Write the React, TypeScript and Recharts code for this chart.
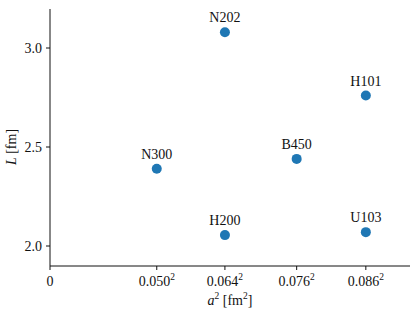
import { ScatterChart, Scatter, XAxis, YAxis, LabelList } from 'recharts';

// ensembles, a^2 in fm^2 and box size L in fm
const ensembles = ['N300', 'N202', 'H200', 'B450', 'H101', 'U103'];
const a2Values = [0.0025, 0.004096, 0.004096, 0.005776, 0.007396, 0.007396];
const lValues = [2.39, 3.08, 2.055, 2.44, 2.76, 2.07];

const xTicks = [0, 0.0025, 0.004096, 0.005776, 0.007396];
const xTickLabels = ['0', '0.050', '0.064', '0.076', '0.086'];
const yTicks = [2.0, 2.5, 3.0];

const data = ensembles.map((name, i) => ({ name, a2: a2Values[i], L: lValues[i] }));

const FONT = '"Liberation Serif", "Times New Roman", serif';
const INK = '#111';

const XTick = (props: any) => {
  const { x, y, payload, index } = props;
  const label = xTickLabels[index] ?? String(payload.value);
  return (
    <text x={x} y={y + 14} textAnchor="middle" style={{ fontFamily: FONT, fontSize: 14 }} fill={INK}>
      {label}
      {index > 0 && (
        <tspan dy={-6} style={{ fontSize: 9.5 }}>
          2
        </tspan>
      )}
    </text>
  );
};

const YTick = (props: any) => {
  const { x, y, payload } = props;
  return (
    <text x={x - 2} y={y + 5} textAnchor="end" style={{ fontFamily: FONT, fontSize: 14 }} fill={INK}>
      {Number(payload.value).toFixed(1)}
    </text>
  );
};

const Dot = (props: any) => <circle cx={props.cx} cy={props.cy} r={5} fill="#1f77b4" />;

const PointLabel = (props: any) => {
  const { x, y, width, height, value } = props;
  const cx = x + width / 2;
  const cy = y + height / 2;
  return (
    <text x={cx} y={cy - 10} textAnchor="middle" style={{ fontFamily: FONT, fontSize: 14 }} fill={INK}>
      {value}
    </text>
  );
};

export default function App() {
  return (
    <div style={{ position: 'absolute', left: 0, top: 0, width: 415, height: 312, background: '#fff' }}>
      <ScatterChart width={415} height={312} margin={{ top: 9, right: 5, bottom: 0, left: 0 }}>
        <XAxis
          type="number"
          dataKey="a2"
          domain={[0, 0.00843]}
          ticks={xTicks}
          tick={<XTick />}
          tickSize={4}
          stroke={INK}
          tickLine={{ stroke: INK }}
          height={46}
        />
        <YAxis
          type="number"
          dataKey="L"
          domain={[1.899, 3.197]}
          ticks={yTicks}
          tick={<YTick />}
          tickSize={4}
          stroke={INK}
          tickLine={{ stroke: INK }}
          width={50}
        />
        <Scatter data={data} shape={<Dot />} isAnimationActive={false}>
          <LabelList dataKey="name" content={<PointLabel />} />
        </Scatter>
      </ScatterChart>
      <div
        style={{
          position: 'absolute',
          left: 180,
          top: 288,
          width: 100,
          textAlign: 'center',
          fontFamily: FONT,
          fontSize: 14,
          color: INK,
          lineHeight: '16px',
        }}
      >
        <i>a</i>
        <sup style={{ fontSize: 9.5 }}>2</sup> [fm<sup style={{ fontSize: 9.5 }}>2</sup>]
      </div>
      <div
        style={{
          position: 'absolute',
          left: 12 - 50,
          top: 147 - 8,
          width: 100,
          height: 16,
          textAlign: 'center',
          transform: 'rotate(-90deg)',
          fontFamily: FONT,
          fontSize: 14,
          color: INK,
          lineHeight: '16px',
        }}
      >
        <i>L</i> [fm]
      </div>
    </div>
  );
}
